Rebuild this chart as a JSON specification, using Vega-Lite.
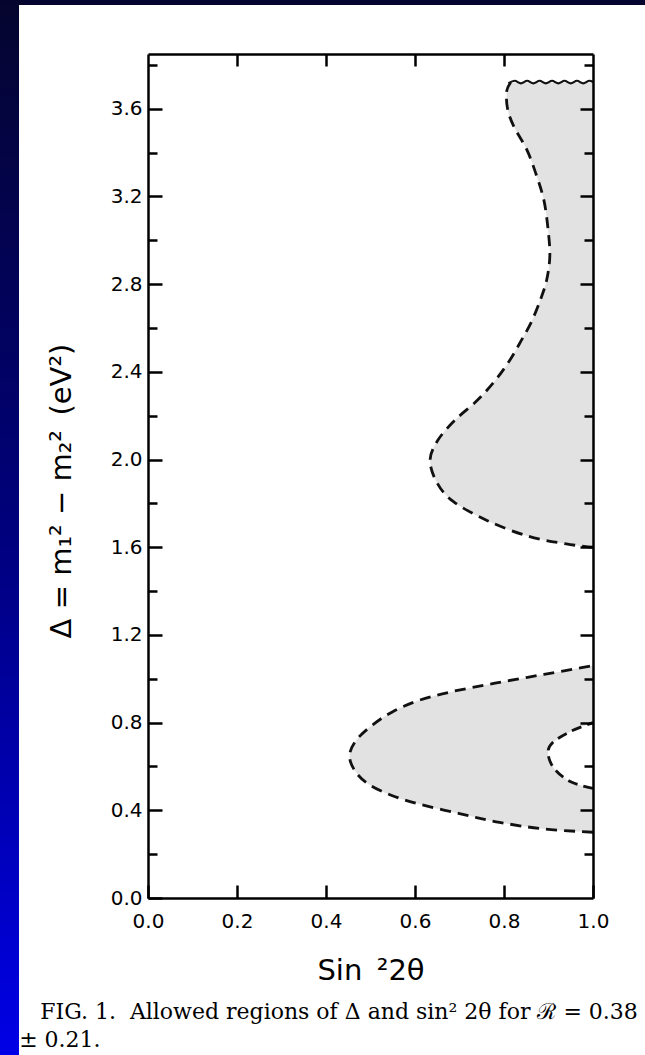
{
  "$schema": "https://vega.github.io/schema/vega-lite/v6.json",
  "padding": 0,
  "background": "white",
  "spacing": 0,
  "config": {"view": {"stroke": null}},
  "datasets": {
    "upper": [
      {"y": 1.60, "x": 1.0}, {"y": 1.615, "x": 0.94}, {"y": 1.65, "x": 0.855}, {"y": 1.72, "x": 0.764},
      {"y": 1.81, "x": 0.685}, {"y": 1.90, "x": 0.648}, {"y": 2.00, "x": 0.634}, {"y": 2.09, "x": 0.652},
      {"y": 2.18, "x": 0.69}, {"y": 2.27, "x": 0.74}, {"y": 2.36, "x": 0.78}, {"y": 2.45, "x": 0.812},
      {"y": 2.54, "x": 0.838}, {"y": 2.63, "x": 0.862}, {"y": 2.73, "x": 0.882}, {"y": 2.82, "x": 0.896},
      {"y": 2.93, "x": 0.903}, {"y": 3.05, "x": 0.899}, {"y": 3.18, "x": 0.89}, {"y": 3.29, "x": 0.874},
      {"y": 3.41, "x": 0.852}, {"y": 3.52, "x": 0.822}, {"y": 3.60, "x": 0.808}, {"y": 3.68, "x": 0.806},
      {"y": 3.72, "x": 0.815}
    ],
    "lower": [
      {"y": 0.30, "x": 1.0}, {"y": 0.315, "x": 0.89}, {"y": 0.345, "x": 0.79}, {"y": 0.385, "x": 0.70},
      {"y": 0.43, "x": 0.607}, {"y": 0.47, "x": 0.545}, {"y": 0.52, "x": 0.495}, {"y": 0.58, "x": 0.465},
      {"y": 0.65, "x": 0.453}, {"y": 0.72, "x": 0.468}, {"y": 0.79, "x": 0.505}, {"y": 0.85, "x": 0.55},
      {"y": 0.90, "x": 0.607}, {"y": 0.94, "x": 0.68}, {"y": 0.98, "x": 0.78}, {"y": 1.02, "x": 0.89},
      {"y": 1.06, "x": 1.0}
    ],
    "hole": [
      {"y": 0.50, "x": 1.0}, {"y": 0.53, "x": 0.95}, {"y": 0.59, "x": 0.913}, {"y": 0.66, "x": 0.899},
      {"y": 0.71, "x": 0.91}, {"y": 0.76, "x": 0.95}, {"y": 0.80, "x": 1.0}
    ],
    "edge": [
      {"x": 0.810, "y": 3.716}, {"x": 0.824, "y": 3.728}, {"x": 0.838, "y": 3.716}, {"x": 0.852, "y": 3.728},
      {"x": 0.866, "y": 3.716}, {"x": 0.880, "y": 3.728}, {"x": 0.894, "y": 3.716}, {"x": 0.908, "y": 3.728},
      {"x": 0.922, "y": 3.716}, {"x": 0.936, "y": 3.728}, {"x": 0.950, "y": 3.716}, {"x": 0.964, "y": 3.728},
      {"x": 0.978, "y": 3.716}, {"x": 0.992, "y": 3.728}, {"x": 1.0, "y": 3.722}
    ]
  },
  "vconcat": [
    {
      "width": 645,
      "height": 5,
      "data": {"values": []},
      "mark": {"type": "text", "text": ""},
      "view": {"stroke": null, "fill": "#04042f"}
    },
    {
      "spacing": 0,
      "hconcat": [
        {
          "width": 19,
          "height": 1050,
          "data": {"values": []},
          "mark": {"type": "text", "text": ""},
          "view": {
            "stroke": null,
            "fill": {
              "gradient": "linear", "x1": 0, "y1": 0, "x2": 0, "y2": 1,
              "stops": [
                {"offset": 0, "color": "#05052f"},
                {"offset": 0.5, "color": "#00007c"},
                {"offset": 1, "color": "#0000e6"}
              ]
            }
          }
        },
        {
          "spacing": 46,
          "vconcat": [
            {
              "width": 445,
              "height": 1,
              "data": {"values": []},
              "mark": {"type": "text", "text": ""}
            },
            {
              "width": 445,
              "height": 844,
              "title": {
                "text": ["\u200b\u00a0\u00a0\u00a0FIG. 1.\u00a0\u00a0Allowed regions of Δ and sin² 2θ for ℛ = 0.38", "± 0.21."],
                "orient": "bottom",
                "anchor": "start",
                "frame": "bounds",
                "dx": -28,
                "offset": 17,
                "baseline": "top",
                "font": "DejaVu Serif",
                "fontSize": 22,
                "fontWeight": "normal",
                "color": "black",
                "lineHeight": 28
              },
              "resolve": {"axis": {"x": "independent", "y": "independent"}},
              "layer": [
                {
                  "data": {"name": "upper"},
                  "mark": {"type": "area", "orient": "horizontal", "interpolate": "cardinal", "color": "#e2e2e2"},
                  "encoding": {
                    "y": {
                      "field": "y", "type": "quantitative",
                      "scale": {"domain": [0, 3.85], "nice": false, "zero": false},
                      "axis": {
                        "orient": "left",
                        "values": [0, 0.2, 0.4, 0.6, 0.8, 1.0, 1.2, 1.4, 1.6, 1.8, 2.0, 2.2, 2.4, 2.6, 2.8, 3.0, 3.2, 3.4, 3.6, 3.8],
                        "labelExpr": "round(datum.value * 10) % 4 == 0 ? format(datum.value, '.1f') : ''",
                        "tickSize": {"condition": {"test": "round(datum.value * 10) % 4 == 0", "value": -14}, "value": -9},
                        "tickWidth": 2.5,
                        "tickColor": "black",
                        "domainColor": "black",
                        "domainWidth": 2.5,
                        "grid": false,
                        "labelFlush": false,
                        "labelFont": "DejaVu Sans",
                        "labelFontSize": 20,
                        "labelColor": "black",
                        "labelPadding": 20,
                        "title": "Δ = m₁² − m₂²\u2002(eV²)\u2002\u2002\u200b",
                        "titleFont": "DejaVu Sans",
                        "titleFontSize": 29,
                        "titleFontWeight": "normal",
                        "titleColor": "black",
                        "titlePadding": 34,
                        "zindex": 1
                      }
                    },
                    "x": {
                      "field": "x", "type": "quantitative",
                      "scale": {"domain": [0, 1], "nice": false, "zero": false},
                      "axis": {
                        "orient": "bottom",
                        "values": [0, 0.2, 0.4, 0.6, 0.8, 1.0],
                        "format": ".1f",
                        "tickSize": -13,
                        "tickWidth": 2.5,
                        "tickColor": "black",
                        "domainColor": "black",
                        "domainWidth": 2.5,
                        "grid": false,
                        "labelFlush": false,
                        "labelFont": "DejaVu Sans",
                        "labelFontSize": 20,
                        "labelColor": "black",
                        "labelPadding": 26,
                        "title": "Sin\u2002²2θ",
                        "titleFont": "DejaVu Sans",
                        "titleFontSize": 29,
                        "titleFontWeight": "normal",
                        "titleColor": "black",
                        "titlePadding": 25,
                        "zindex": 1
                      }
                    },
                    "x2": {"datum": 1}
                  }
                },
                {
                  "data": {"name": "lower"},
                  "mark": {"type": "area", "orient": "horizontal", "interpolate": "cardinal", "color": "#e2e2e2"},
                  "encoding": {
                    "y": {
                      "field": "y", "type": "quantitative",
                      "axis": {
                        "orient": "right",
                        "values": [0.2, 0.4, 0.6, 0.8, 1.0, 1.2, 1.4, 1.6, 1.8, 2.0, 2.2, 2.4, 2.6, 2.8, 3.0, 3.2, 3.4, 3.6, 3.8],
                        "labels": false,
                        "tickSize": {"condition": {"test": "round(datum.value * 10) % 4 == 0", "value": -13}, "value": -9},
                        "tickWidth": 2.5,
                        "tickColor": "black",
                        "domainColor": "black",
                        "domainWidth": 2.5,
                        "grid": false,
                        "title": null,
                        "zindex": 1
                      }
                    },
                    "x": {
                      "field": "x", "type": "quantitative",
                      "axis": {
                        "orient": "top",
                        "values": [0.2, 0.4, 0.6, 0.8],
                        "labels": false,
                        "tickSize": -12,
                        "tickWidth": 2.5,
                        "tickColor": "black",
                        "domainColor": "black",
                        "domainWidth": 2.5,
                        "grid": false,
                        "title": null,
                        "zindex": 1
                      }
                    },
                    "x2": {"datum": 1}
                  }
                },
                {
                  "data": {"name": "hole"},
                  "mark": {"type": "area", "orient": "horizontal", "interpolate": "cardinal", "color": "white"},
                  "encoding": {
                    "y": {"field": "y", "type": "quantitative", "axis": null},
                    "x": {"field": "x", "type": "quantitative", "axis": null},
                    "x2": {"datum": 1}
                  }
                },
                {
                  "data": {"name": "upper"},
                  "mark": {"type": "line", "interpolate": "cardinal", "color": "#111111", "strokeWidth": 2.8, "strokeDash": [11, 7]},
                  "encoding": {
                    "y": {"field": "y", "type": "quantitative", "axis": null},
                    "x": {"field": "x", "type": "quantitative", "axis": null},
                    "order": {"field": "y", "type": "quantitative"}
                  }
                },
                {
                  "data": {"name": "lower"},
                  "mark": {"type": "line", "interpolate": "cardinal", "color": "#111111", "strokeWidth": 2.8, "strokeDash": [11, 7]},
                  "encoding": {
                    "y": {"field": "y", "type": "quantitative", "axis": null},
                    "x": {"field": "x", "type": "quantitative", "axis": null},
                    "order": {"field": "y", "type": "quantitative"}
                  }
                },
                {
                  "data": {"name": "hole"},
                  "mark": {"type": "line", "interpolate": "cardinal", "color": "#111111", "strokeWidth": 2.8, "strokeDash": [10, 6]},
                  "encoding": {
                    "y": {"field": "y", "type": "quantitative", "axis": null},
                    "x": {"field": "x", "type": "quantitative", "axis": null},
                    "order": {"field": "y", "type": "quantitative"}
                  }
                },
                {
                  "data": {"name": "edge"},
                  "mark": {"type": "line", "interpolate": "monotone", "color": "#111111", "strokeWidth": 2.2},
                  "encoding": {
                    "y": {"field": "y", "type": "quantitative", "axis": null},
                    "x": {"field": "x", "type": "quantitative", "axis": null},
                    "order": {"field": "x", "type": "quantitative"}
                  }
                }
              ]
            }
          ]
        }
      ]
    }
  ]
}
